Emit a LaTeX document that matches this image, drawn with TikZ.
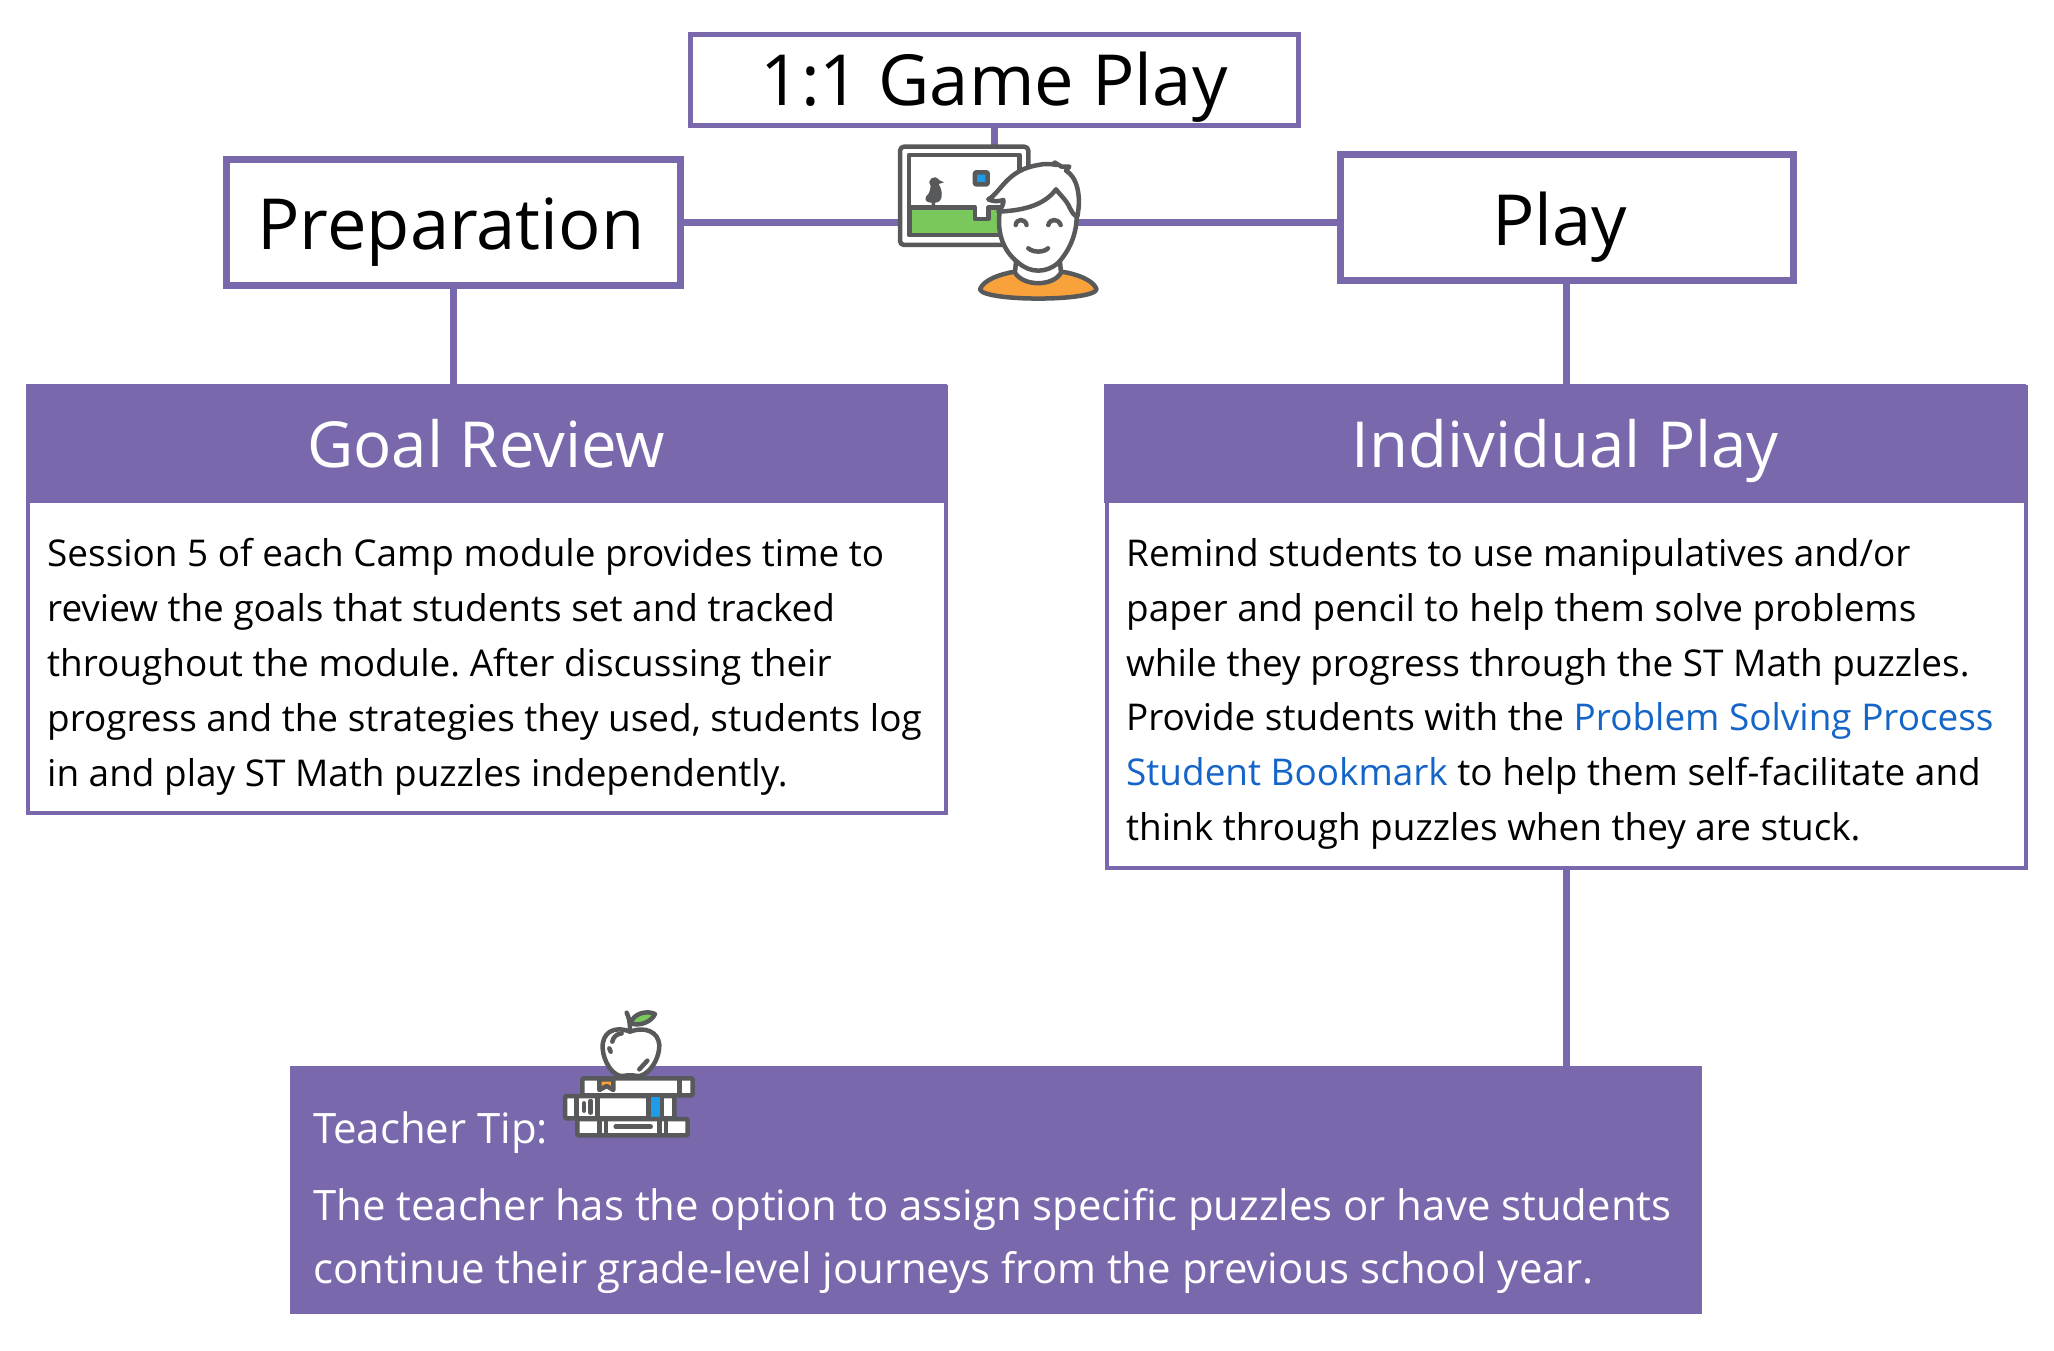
\documentclass[tikz,border=0pt]{standalone}
\usepackage{fontspec}
\setmainfont{Open Sans}
\usetikzlibrary{positioning}
\definecolor{camp}{HTML}{7A68AD}
\definecolor{linkblue}{HTML}{1565C8}
\definecolor{icondark}{HTML}{58595B}
\definecolor{icongreen}{HTML}{7AC85C}
\definecolor{iconblue}{HTML}{1C9DE6}
\definecolor{iconorange}{HTML}{F9A23C}
\tikzset{
  phasebox/.style={draw=camp,line width=7pt,fill=white,inner sep=0pt,anchor=north west,text height=57pt,text depth=8pt,font=\fontsize{70.5}{70.5}\selectfont},
  headbox/.style={fill=camp,text=white,inner sep=0pt,anchor=north west,text height=54pt,text depth=6pt,font=\fontsize{63.5}{63.5}\selectfont},
  bodybox/.style={draw=camp,line width=4pt,fill=white,inner sep=0pt,anchor=north west},
  bodytext/.style={align=left,anchor=north west,inner sep=0pt,font=\fontsize{36.9}{54.9}\selectfont\frenchspacing},
  tiptext/.style={align=left,anchor=north west,inner sep=0pt,text=white,font=\fontsize{41.9}{63}\selectfont},
  link/.style={line width=7pt,draw=camp},
  ic/.style={draw=icondark,line width=4.5pt,line join=round,line cap=round},
}
\begin{document}
\begin{tikzpicture}[x=1pt,y=-1pt]
  \useasboundingbox (0,0) rectangle (2054,1350);
  \node[phasebox,minimum width=608pt,minimum height=91pt,line width=4.5pt,text height=58pt,text depth=7pt] (title) at (688,32) {1:1 Game Play};
  \node[phasebox,minimum width=454pt,minimum height=126pt,text height=59pt,text depth=6pt] (prep) at (222.5,156) {Preparation\kern4pt};
  \node[phasebox,minimum width=453pt,minimum height=126pt,text height=60pt,text depth=5pt] (play) at (1336.5,151) {Play\kern14pt};
  \coordinate (icon) at (1000,222);
  \node[bodybox,minimum width=917.5pt,minimum height=426pt] (goalbody) at (26,385) {};
  \node[bodybox,minimum width=919pt,minimum height=481pt] (indivbody) at (1105,385) {};
  \node[headbox,minimum width=921pt,minimum height=119pt] (goal) at (25.5,384) {Goal Review};
  \node[headbox,minimum width=922pt,minimum height=119pt] (indiv) at (1104,384) {Individual Play};
  \node[fill=camp,minimum width=1412pt,minimum height=248pt,inner sep=0pt,anchor=north west] (tip) at (290,1066) {};
  \draw[link] (title.south) -- (title.south |- icon);
  \draw[link] (prep.east |- icon) -- (icon) -- (play.west |- icon);
  \draw[link] (prep.south) -- (prep.south |- goal.north);
  \draw[link] (play.south) -- (play.south |- indiv.north);
  \draw[link] (indivbody.south) -- (indivbody.south |- tip.north);
  \node[bodytext] (goaltext) at (47,538) {Session 5 of each Camp module provides time to\\review the goals that students set and tracked\\throughout the module. After discussing their\\progress and the strategies they used, students log\\in and play ST Math puzzles independently.};
  \node[bodytext] (indivtext) at (1126,538) {Remind students to use manipulatives and/or\\paper and pencil to help them solve problems\\while they progress through the ST Math puzzles.\\Provide students with the \textcolor{linkblue}{Problem Solving Process}\\\textcolor{linkblue}{Student Bookmark} to help them self-facilitate and\\think through puzzles when they are stuck.};
  \node[tiptext] (tiplabel) at (313,1111) {Teacher Tip:};
  \node[tiptext] (tipbody) at (313,1188.5) {The teacher has the option to assign specific puzzles or have students\\continue their grade-level journeys from the previous school year.};
  % game and child
  \begin{scope}[shift={(860,120)},x=0.3333pt,y=-0.3333pt]
    \draw[ic,fill=white,rounded corners=4pt] (120,80) rectangle (505,375);
    \draw[ic,fill=white] (147,105) rectangle (478,345);
    \draw[ic,fill=icongreen] (150,262) -- (345,262) -- (345,297) -- (385,297) -- (385,262) -- (478,262) -- (478,345) -- (150,345) -- cycle;
    \draw[ic,fill=iconblue,rounded corners=1pt] (345,157) rectangle (383,193);
    \fill[icondark] (215,258) -- (215,248) .. controls (195,248) and (190,235) .. (205,222) .. controls (210,212) and (212,205) .. (212,197) .. controls (198,180) and (225,160) .. (237,180) -- (252,187) -- (236,192) .. controls (250,215) and (250,248) .. (225,248) -- (225,258) -- cycle;
    \draw[ic,fill=iconorange] (360,508) .. controls (370,480) and (420,462) .. (465,455) -- (605,455) .. controls (650,462) and (700,480) .. (710,508) .. controls (700,545) and (370,545) .. (360,508) -- cycle;
    \draw[ic,fill=white] (468,425) -- (465,458) .. controls (490,500) and (580,500) .. (603,458) -- (600,425) -- cycle;
    \draw[ic,fill=white] (420,270) .. controls (410,330) and (425,390) .. (475,428) .. controls (510,460) and (560,460) .. (595,428) .. controls (630,390) and (650,340) .. (650,290) -- (640,200) -- (500,200) -- cycle;
    \draw[ic,fill=white] (385,238) .. controls (425,215) and (440,150) .. (535,135) .. controls (555,130) and (575,132) .. (590,135) -- (583,127) -- (605,140) -- (628,140) -- (618,152) .. controls (650,170) and (665,225) .. (652,290) .. controls (640,285) and (635,275) .. (630,265) .. controls (620,240) and (600,225) .. (588,208) .. controls (550,260) and (480,272) .. (415,275) .. controls (425,265) and (432,250) .. (430,240) .. controls (415,245) and (400,245) .. (385,238) -- cycle;
    \draw[ic] (467,315) .. controls (470,295) and (495,295) .. (500,315);
    \draw[ic] (565,315) .. controls (570,295) and (595,295) .. (602,315);
    \draw[ic] (505,385) .. controls (520,398) and (550,398) .. (564,385);
  \end{scope}
  % apple and books
  \begin{scope}[shift={(540,990)},x=0.3333pt,y=-0.3333pt]
    \draw[ic,fill=icongreen] (272,100) .. controls (280,70) and (320,60) .. (345,72) .. controls (335,95) and (300,110) .. (272,100) -- cycle;
    \draw[ic] (260,68) .. controls (268,85) and (270,100) .. (270,120);
    \draw[ic,fill=white] (270,125) .. controls (220,105) and (185,130) .. (188,175) .. controls (190,215) and (220,262) .. (250,258) .. controls (262,255) and (278,255) .. (290,258) .. controls (320,262) and (358,215) .. (358,165) .. controls (355,125) and (315,108) .. (270,125) -- cycle;
    \draw[ic] (208,175) -- (212,185);
    \draw[ic] (217,155) .. controls (220,140) and (230,132) .. (245,130);
    \draw[ic] (298,238) -- (322,212);
    \draw[ic,fill=white,rounded corners=1pt] (127,265) rectangle (458,316);
    \draw[ic] (418,265) -- (418,316);
    \draw[ic,fill=iconorange] (178,268) -- (178,300) -- (200,288) -- (220,300) -- (220,268) -- cycle;
    \draw[ic,fill=white,rounded corners=1pt] (75,318) rectangle (403,385);
    \draw[ic] (110,318) -- (110,385) (172,318) -- (172,385) (365,318) -- (365,385);
    \fill[iconblue] (330,322) rectangle (360,381);
    \draw[ic] (325,318) -- (325,385);
    \draw[ic] (132,340) -- (132,362) (152,333) -- (152,368);
    \draw[ic,fill=white,rounded corners=1pt] (112,387) rectangle (443,436);
    \draw[ic] (178,387) -- (178,436) (198,387) -- (198,436) (358,387) -- (358,436) (378,387) -- (378,436);
    \draw[ic] (227,410) -- (332,410);
  \end{scope}
\end{tikzpicture}
\end{document}
